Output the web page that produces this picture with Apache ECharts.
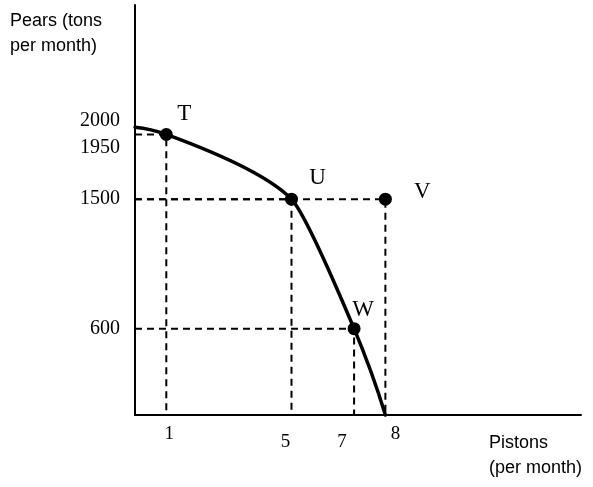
<!DOCTYPE html>
<html>
<head>
<meta charset="utf-8">
<script src="https://cdn.jsdelivr.net/npm/echarts@6/dist/echarts.min.js"></script>
<style>
html,body{margin:0;padding:0;background:#fff;}
#chart{width:593px;height:487px;}
</style>
</head>
<body>
<div id="chart"></div>
<script>
// Production possibilities frontier
const curvePistons = [0, 1, 5, 7, 8];
const curvePears = [2000, 1950, 1500, 600, 0];
const pointNames = ['T', 'U', 'V', 'W'];
const pointPistons = [1, 5, 8, 7];
const pointPears = [1950, 1500, 1500, 600];
const xTickValues = [1, 5, 7, 8];
const yTickValues = [600, 1500, 1950, 2000];
const yAxisTitle = 'Pears (tons\nper month)';
const xAxisTitle = 'Pistons\n(per month)';

const labelOffsets = { T: [18, -21], U: [26, -21], V: [37, -7], W: [9, -19] };
// small nudges of x tick labels, as in the hand-drawn original
const xLabelPad = { 1: [0, 0, 0, 6], 5: [8, 12, 0, 0], 7: [8, 24, 0, 0], 8: [0, 0, 0, 20] };
const serif = '"Liberation Serif", "DejaVu Serif", serif';
const sans = '"Liberation Sans", Arial, sans-serif';

const chart = echarts.init(document.getElementById('chart'), null, { renderer: 'canvas' });

const guideSeries = pointNames.map((n, i) => ({
  type: 'line',
  name: 'guide-' + n,
  data: [[0, pointPears[i]], [pointPistons[i], pointPears[i]], [pointPistons[i], 0]],
  symbol: 'none',
  silent: true,
  z: 1,
  lineStyle: { color: '#000', width: 2, type: [7, 5] }
}));

// Shape-preserving smooth curve: quadratic Bezier pieces whose control point
// is the intersection of the tangent lines at consecutive points.
function norm(v) { const l = Math.hypot(v[0], v[1]) || 1; return [v[0] / l, v[1] / l]; }
function renderCurve(params, api) {
  if (params.dataIndex !== 0) return null;
  const P = curvePistons.map((x, i) => api.coord([x, curvePears[i]]));
  const n = P.length;
  const U = [];
  for (let i = 0; i < n - 1; i++) U.push(norm([P[i + 1][0] - P[i][0], P[i + 1][1] - P[i][1]]));
  const D = new Array(n);
  for (let i = 1; i < n - 1; i++) D[i] = norm([U[i - 1][0] + U[i][0], U[i - 1][1] + U[i][1]]);
  const mirror = (d, u) => { const k = 2 * (d[0] * u[0] + d[1] * u[1]); return norm([k * u[0] - d[0], k * u[1] - d[1]]); };
  D[0] = n > 2 ? mirror(D[1], U[0]) : U[0];
  D[n - 1] = n > 2 ? mirror(D[n - 2], U[n - 2]) : U[n - 2];
  const children = [];
  for (let i = 0; i < n - 1; i++) {
    const a = P[i], b = P[i + 1], da = D[i], db = D[i + 1];
    const det = da[0] * (-db[1]) - da[1] * (-db[0]);
    let c;
    if (Math.abs(det) < 1e-9) {
      c = [(a[0] + b[0]) / 2, (a[1] + b[1]) / 2];
    } else {
      const rx = b[0] - a[0], ry = b[1] - a[1];
      const t = (rx * (-db[1]) - ry * (-db[0])) / det;
      c = [a[0] + t * da[0], a[1] + t * da[1]];
    }
    children.push({
      type: 'bezierCurve',
      shape: { x1: a[0], y1: a[1], x2: b[0], y2: b[1], cpx1: c[0], cpy1: c[1] },
      style: { stroke: '#000', lineWidth: 3.5, fill: null, lineCap: 'round', lineJoin: 'round' }
    });
  }
  return { type: 'group', children };
}

const xRich = {};
Object.keys(xLabelPad).forEach(k => {
  xRich['p' + k] = { fontFamily: serif, fontSize: 19, color: '#000', padding: xLabelPad[k] };
});

const option = {
  backgroundColor: '#fff',
  animation: false,
  title: [
    { text: yAxisTitle, left: 5, top: 4, textStyle: { fontFamily: sans, fontSize: 18, fontWeight: 'normal', color: '#000', lineHeight: 25 } },
    { text: xAxisTitle, left: 484, top: 426, textStyle: { fontFamily: sans, fontSize: 18, fontWeight: 'normal', color: '#000', lineHeight: 25 } }
  ],
  grid: { left: 135, right: 12, top: 5, bottom: 72 },
  xAxis: {
    type: 'value', min: 0, max: 14.25,
    axisLine: { show: true, lineStyle: { color: '#000', width: 2 } },
    axisTick: { show: false },
    splitLine: { show: false },
    axisLabel: {
      customValues: xTickValues,
      margin: 10,
      fontFamily: serif, fontSize: 19, color: '#000',
      formatter: v => xLabelPad[v] ? '{p' + v + '|' + v + '}' : String(v),
      rich: xRich
    }
  },
  yAxis: {
    type: 'value', min: 0, max: 2850,
    axisLine: { show: true, lineStyle: { color: '#000', width: 2 } },
    axisTick: { show: false },
    splitLine: { show: false },
    axisLabel: {
      customValues: yTickValues,
      margin: 15,
      fontFamily: serif, fontSize: 20, color: '#000',
      formatter: v => v === 2000 ? '{up|2000}' : (v === 1950 ? '{down|1950}' : String(v)),
      rich: {
        up: { fontFamily: serif, fontSize: 20, color: '#000', padding: [0, 0, 14, 0] },
        down: { fontFamily: serif, fontSize: 20, color: '#000', padding: [26, 0, 0, 0] }
      }
    }
  },
  series: [
    ...guideSeries,
    {
      type: 'custom',
      name: 'PPF',
      coordinateSystem: 'cartesian2d',
      data: curvePistons.map((x, i) => [x, curvePears[i]]),
      encode: { x: 0, y: 1 },
      renderItem: renderCurve,
      silent: true,
      z: 3
    },
    {
      type: 'scatter',
      name: 'points',
      z: 4,
      symbolSize: 13,
      itemStyle: { color: '#000', opacity: 1 },
      data: pointNames.map((n, i) => ({
        value: [pointPistons[i], pointPears[i]],
        name: n,
        label: {
          show: true, formatter: n, position: 'inside',
          offset: labelOffsets[n],
          fontFamily: serif, fontSize: 23, color: '#000', opacity: 1
        }
      }))
    }
  ]
};
chart.setOption(option);
</script>
</body>
</html>
